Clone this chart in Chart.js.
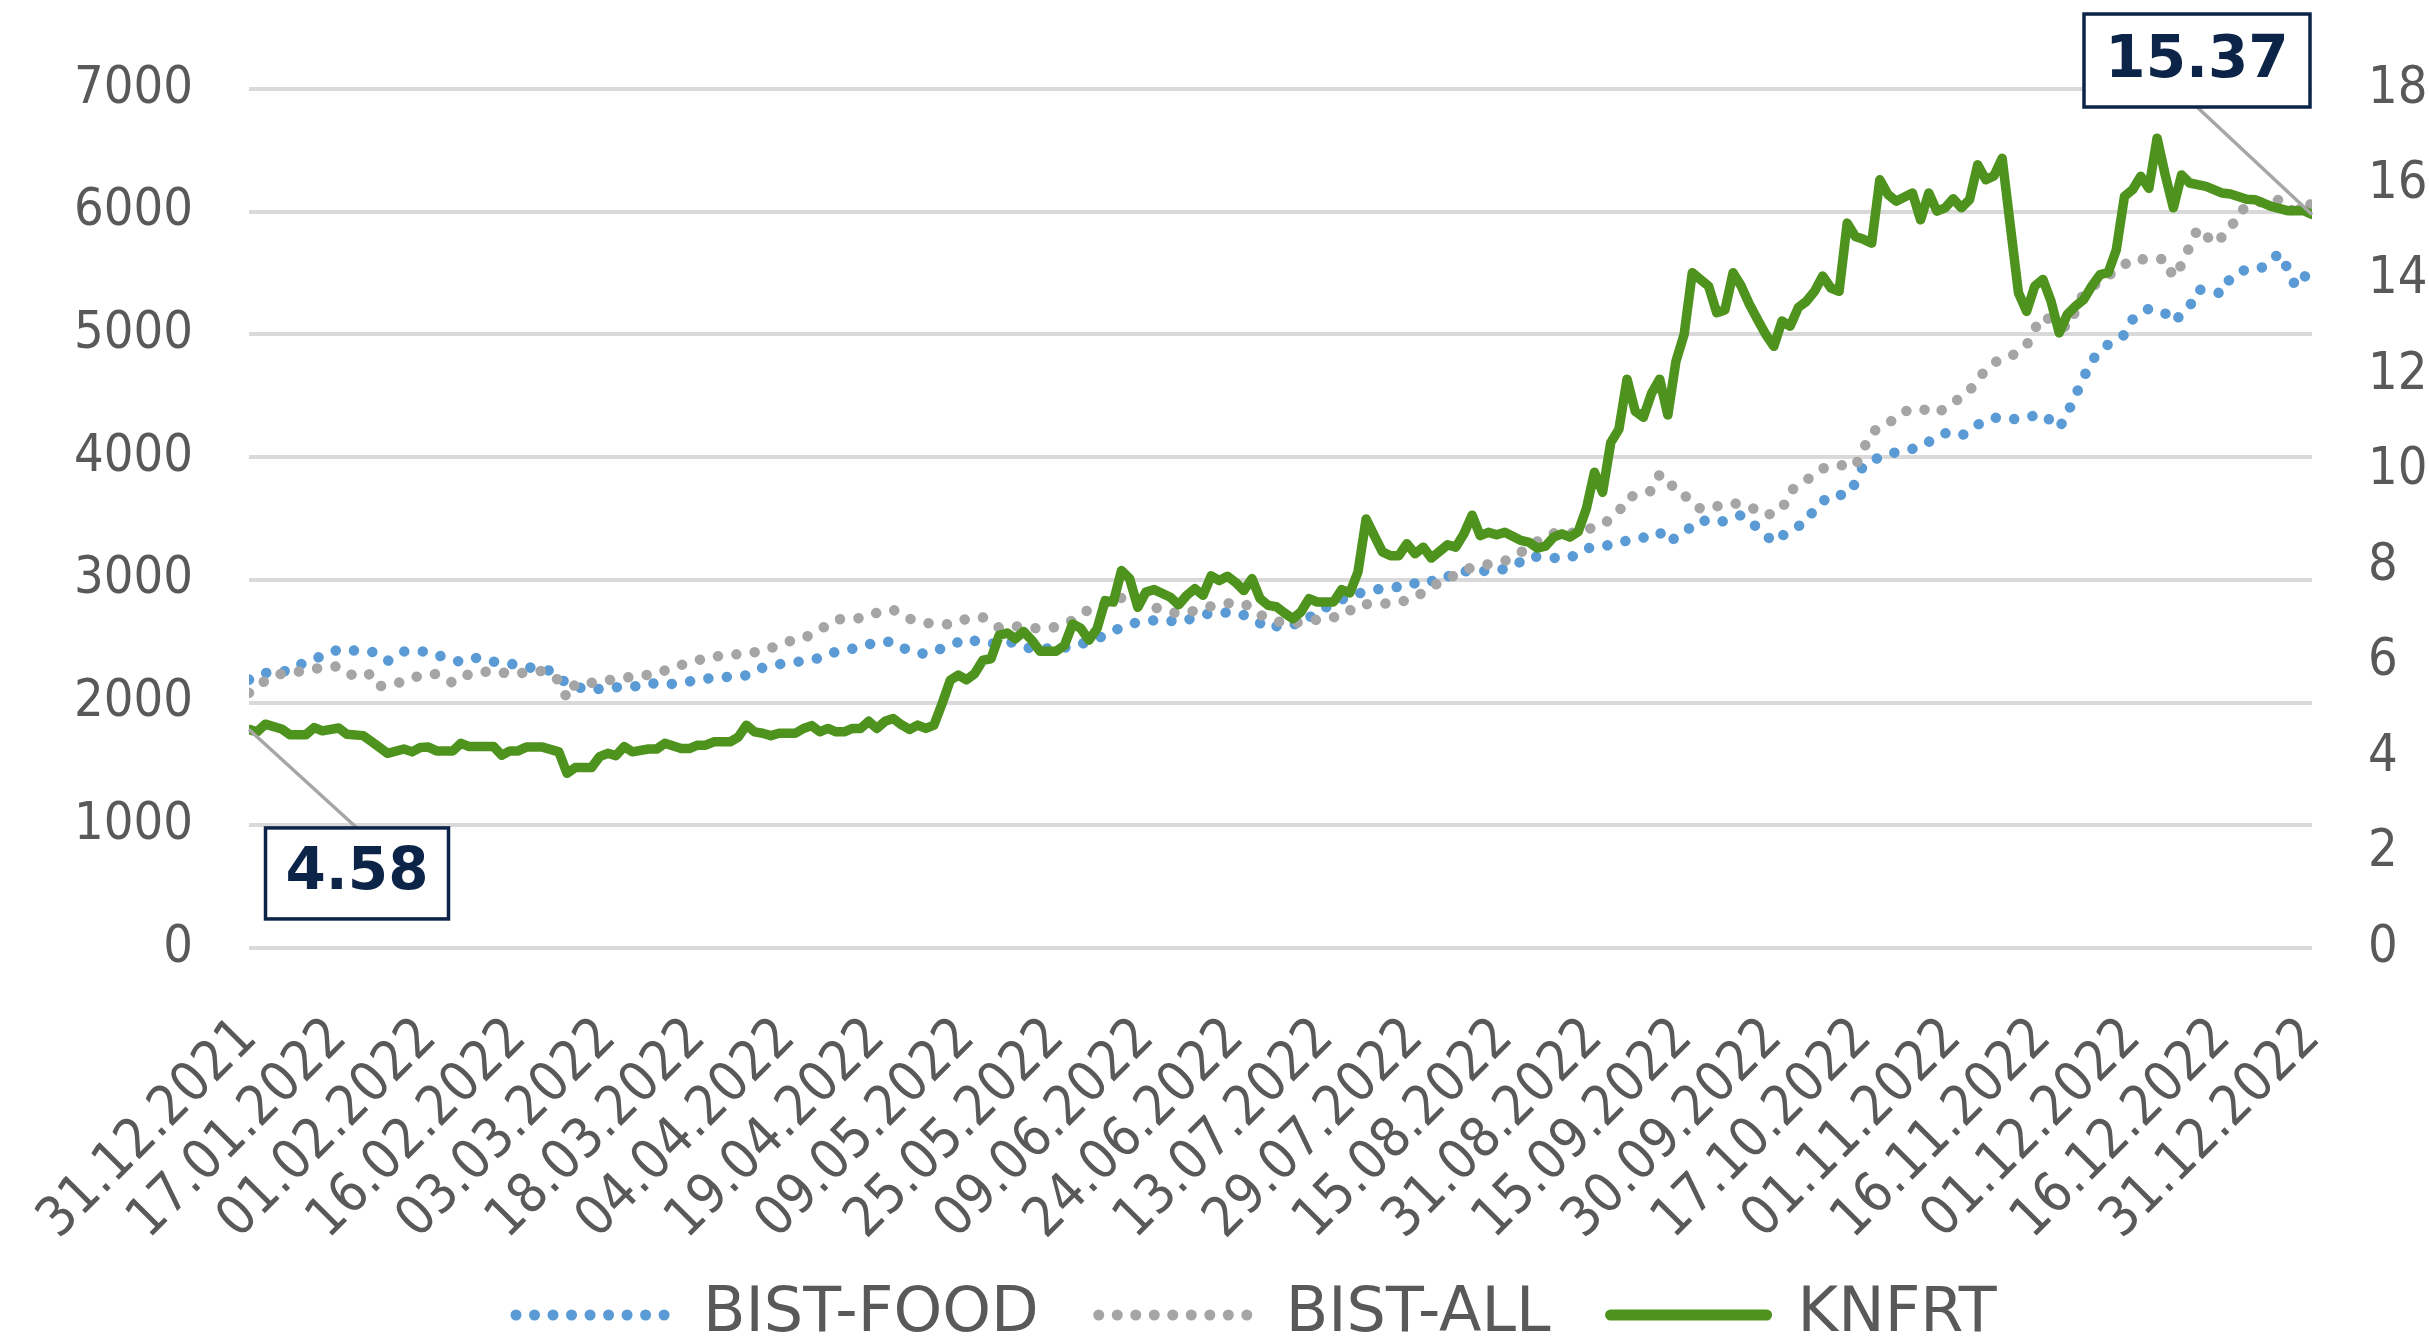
<!DOCTYPE html>
<html><head><meta charset="utf-8">
<script src="https://cdn.jsdelivr.net/npm/chart.js@4.4.1/dist/chart.umd.min.js"></script>
<style>html,body{margin:0;padding:0;background:#fff;}#wrap{width:2429px;height:1338px;}</style>
</head><body><div id="wrap"><canvas id="c" width="2429" height="1338"></canvas></div>
<script>
// ---- DATA ----
const tickLabels = ['31.12.2021','17.01.2022','01.02.2022','16.02.2022','03.03.2022','18.03.2022','04.04.2022','19.04.2022','09.05.2022','25.05.2022','09.06.2022','24.06.2022','13.07.2022','29.07.2022','15.08.2022','31.08.2022','15.09.2022','30.09.2022','17.10.2022','01.11.2022','16.11.2022','01.12.2022','16.12.2022','31.12.2022'];
const tickDays = [0,11,22,33,44,55,66,77,88,99,110,121,132,143,154,165,176,187,198,209,220,231,242,253];
const seriesNames = ['BIST-FOOD','BIST-ALL','KNFRT'];

// [trading day index, value]
const bistFood = [[0,2187],[2,2241],[5,2260],[7,2336],[9,2379],[11,2434],[13,2423],[15,2417],[17,2339],[19,2417],[22,2417],[24,2366],[26,2331],[28,2366],[31,2317],[33,2312],[35,2276],[37,2260],[39,2154],[40,2130],[42,2100],[44,2125],[47,2127],[49,2160],[51,2146],[53,2160],[56,2195],[58,2206],[61,2222],[63,2285],[65,2312],[68,2339],[70,2363],[72,2415],[75,2450],[77,2496],[79,2496],[81,2417],[83,2396],[86,2466],[88,2521],[90,2485],[92,2480],[94,2493],[96,2434],[99,2445],[101,2453],[105,2547],[107,2615],[109,2655],[112,2677],[114,2655],[116,2691],[118,2732],[121,2734],[123,2691],[125,2602],[127,2642],[129,2637],[131,2743],[133,2805],[135,2873],[138,2919],[140,2940],[142,2943],[144,3003],[146,2981],[148,3068],[151,3073],[153,3073],[155,3108],[157,3192],[160,3179],[162,3179],[164,3257],[166,3271],[168,3306],[171,3344],[173,3388],[174,3304],[176,3388],[178,3488],[180,3463],[182,3501],[183,3528],[185,3425],[187,3306],[189,3407],[191,3469],[192,3583],[194,3694],[196,3691],[197,3789],[198,3938],[200,4000],[202,4041],[205,4081],[207,4168],[208,4195],[210,4173],[212,4265],[214,4322],[216,4306],[218,4326],[220,4350],[222,4236],[223,4358],[224,4504],[225,4648],[226,4791],[228,4919],[230,4997],[231,5122],[233,5211],[235,5171],[236,5100],[238,5228],[239,5366],[240,5358],[242,5333],[243,5466],[245,5534],[247,5547],[249,5661],[250,5539],[251,5388],[252,5469],[253,5500]];

const bistAll = [[0,2079],[2,2179],[4,2236],[7,2260],[9,2287],[11,2295],[13,2209],[15,2233],[16,2133],[19,2171],[21,2222],[23,2233],[25,2160],[27,2233],[30,2260],[32,2233],[34,2244],[36,2258],[38,2182],[39,2033],[40,2152],[43,2166],[45,2195],[47,2209],[50,2236],[52,2287],[54,2325],[56,2363],[59,2393],[61,2393],[64,2444],[66,2496],[68,2523],[70,2593],[72,2677],[75,2688],[77,2732],[79,2756],[81,2683],[83,2648],[86,2637],[88,2683],[90,2694],[92,2610],[94,2621],[97,2602],[99,2615],[101,2669],[103,2759],[105,2800],[107,2854],[111,2778],[113,2732],[115,2729],[117,2772],[120,2810],[122,2810],[124,2715],[126,2661],[128,2648],[130,2661],[132,2692],[134,2699],[136,2800],[139,2805],[141,2816],[143,2854],[145,2946],[147,3005],[149,3084],[152,3127],[154,3154],[156,3225],[158,3314],[160,3379],[162,3379],[164,3410],[166,3447],[168,3556],[169,3669],[172,3726],[173,3859],[174,3826],[175,3713],[177,3656],[178,3577],[180,3599],[182,3626],[184,3599],[186,3523],[188,3572],[189,3724],[191,3813],[193,3908],[195,3935],[197,3924],[198,4068],[199,4203],[201,4274],[203,4374],[205,4396],[207,4358],[209,4442],[211,4539],[212,4640],[214,4772],[216,4818],[218,4911],[219,5046],[220,5149],[223,5054],[224,5190],[225,5339],[227,5434],[229,5523],[231,5615],[233,5610],[235,5615],[236,5466],[237,5569],[238,5718],[239,5864],[240,5807],[241,5737],[243,5856],[244,6003],[246,6065],[248,6108],[250,6076],[251,5949],[252,6098],[253,6050]];

const knfrt = [[0,4.58],[1,4.53],[2,4.69],[4,4.59],[5,4.47],[7,4.47],[8,4.62],[9,4.55],[11,4.61],[12,4.48],[14,4.45],[15,4.33],[17,4.08],[19,4.17],[20,4.11],[21,4.20],[22,4.21],[23,4.13],[25,4.13],[26,4.29],[27,4.22],[30,4.22],[31,4.04],[32,4.13],[33,4.13],[34,4.21],[36,4.21],[38,4.11],[39,3.66],[40,3.78],[42,3.78],[43,4.01],[44,4.08],[45,4.03],[46,4.22],[47,4.11],[49,4.17],[50,4.17],[51,4.29],[53,4.18],[54,4.18],[55,4.25],[56,4.25],[57,4.32],[59,4.32],[60,4.42],[61,4.67],[62,4.53],[63,4.50],[64,4.45],[65,4.50],[67,4.50],[68,4.60],[69,4.66],[70,4.53],[71,4.60],[72,4.53],[73,4.53],[74,4.60],[75,4.60],[76,4.75],[77,4.60],[78,4.75],[79,4.81],[80,4.68],[81,4.58],[82,4.67],[83,4.60],[84,4.67],[85,5.12],[86,5.61],[87,5.72],[88,5.62],[89,5.75],[90,6.03],[91,6.06],[92,6.55],[93,6.60],[94,6.48],[95,6.63],[96,6.45],[97,6.22],[99,6.22],[100,6.34],[101,6.79],[102,6.70],[103,6.45],[104,6.69],[105,7.28],[106,7.25],[107,7.91],[108,7.74],[109,7.14],[110,7.46],[111,7.51],[113,7.35],[114,7.19],[115,7.39],[116,7.53],[117,7.39],[118,7.80],[119,7.70],[120,7.79],[121,7.66],[122,7.49],[123,7.74],[124,7.32],[125,7.18],[126,7.15],[127,7.02],[128,6.90],[129,7.04],[130,7.32],[131,7.25],[133,7.25],[134,7.51],[135,7.44],[136,7.88],[137,8.99],[138,8.64],[139,8.30],[140,8.22],[141,8.22],[142,8.47],[143,8.26],[144,8.40],[145,8.17],[147,8.45],[148,8.40],[149,8.68],[150,9.07],[151,8.64],[152,8.71],[153,8.66],[154,8.71],[156,8.54],[157,8.50],[158,8.38],[159,8.42],[160,8.61],[161,8.68],[162,8.61],[163,8.72],[164,9.20],[165,9.97],[166,9.55],[167,10.59],[168,10.87],[169,11.92],[170,11.25],[171,11.12],[172,11.62],[173,11.92],[174,11.17],[175,12.30],[176,12.86],[177,14.15],[179,13.87],[180,13.31],[181,13.37],[182,14.15],[183,13.87],[184,13.49],[185,13.17],[186,12.86],[187,12.61],[188,13.14],[189,13.03],[190,13.42],[191,13.55],[192,13.76],[193,14.08],[194,13.83],[195,13.76],[196,15.19],[197,14.91],[198,14.85],[199,14.77],[200,16.10],[201,15.79],[202,15.65],[204,15.82],[205,15.26],[206,15.82],[207,15.44],[208,15.51],[209,15.70],[210,15.51],[211,15.68],[212,16.41],[213,16.10],[214,16.18],[215,16.55],[217,13.73],[218,13.34],[219,13.87],[220,14.01],[221,13.55],[222,12.89],[223,13.28],[224,13.45],[225,13.59],[226,13.87],[227,14.11],[228,14.15],[229,14.63],[230,15.75],[231,15.89],[232,16.17],[233,15.92],[234,16.97],[235,16.20],[236,15.51],[237,16.20],[238,16.03],[240,15.96],[242,15.82],[243,15.80],[245,15.69],[246,15.68],[248,15.54],[250,15.45],[252,15.45],[253,15.37]];

// ---- STYLE ----
const TICK_FONT = "'DejaVu Sans Condensed', 'Noto Sans', sans-serif";
const TICK_COLOR = '#595959';
const NAVY = '#0b2447';

const toPts = arr => arr.map(([d, v]) => ({x: d, y: v}));

const annotPlugin = {
  id: 'annot',
  afterDatasetsDraw(chart) {
    const ctx = chart.ctx;
    const xs = chart.scales.x, yr = chart.scales.yR;
    const first = knfrt[0], last = knfrt[knfrt.length - 1];
    const items = [
      {pt: first, dx: 108, dy: 144, w: 183, h: 91, edge: 'top'},
      {pt: last, dx: -115, dy: -154, w: 226, h: 93, edge: 'bottom'}
    ];
    items.forEach(it => {
      const px = xs.getPixelForValue(it.pt[0]);
      const py = yr.getPixelForValue(it.pt[1]);
      const cx = px + it.dx, cy = py + it.dy;
      ctx.save();
      ctx.strokeStyle = '#a6a6a6';
      ctx.lineWidth = 3.5;
      ctx.beginPath();
      ctx.moveTo(px, py);
      ctx.lineTo(cx, it.edge === 'top' ? cy - it.h / 2 : cy + it.h / 2);
      ctx.stroke();
      ctx.fillStyle = '#ffffff';
      ctx.fillRect(cx - it.w / 2, cy - it.h / 2, it.w, it.h);
      ctx.strokeStyle = NAVY;
      ctx.lineWidth = 3.5;
      ctx.strokeRect(cx - it.w / 2, cy - it.h / 2, it.w, it.h);
      ctx.fillStyle = NAVY;
      ctx.font = "bold 58px 'DejaVu Sans', sans-serif";
      ctx.textAlign = 'center';
      ctx.textBaseline = 'middle';
      ctx.fillText(it.pt[1].toFixed(2), cx, cy + 1);
      ctx.restore();
    });
  }
};

// place the legend row: first marker starts at x=516, text centred near y=1315
const legendPlace = {
  id: 'legendPlace',
  afterLayout(chart) {
    const lg = chart.legend;
    if (!lg || !lg.lineWidths) return;
    const P = lg.options.labels.padding;
    const fs = lg.options.labels.font.size;
    const x0 = (lg.left + P + lg.right - lg.lineWidths[0]) / 2;
    const dx = 516 - x0;
    const dy = (1315 - fs / 2 - P) - lg.top;
    lg.left += dx; lg.right += dx; lg.top += dy; lg.bottom += dy;
  }
};

const lineStyles = [
  {color: '#5b9bd5', width: 10.5, dash: [0.01, 18.5]},
  {color: '#a5a5a5', width: 10.5, dash: [0.01, 18.5]},
  {color: '#4f931f', width: 9.5, dash: []}
];
const seriesData = [bistFood, bistAll, knfrt];
const axisFor = ['y', 'y', 'yR'];
const drawOrder = [2, 1, 0];

new Chart(document.getElementById('c'), {
  type: 'line',
  data: {
    datasets: seriesNames.map((name, i) => ({
      label: name,
      data: toPts(seriesData[i]),
      yAxisID: axisFor[i],
      borderColor: lineStyles[i].color,
      backgroundColor: lineStyles[i].color,
      borderWidth: lineStyles[i].width,
      borderDash: lineStyles[i].dash,
      borderCapStyle: 'round',
      borderJoinStyle: 'round',
      pointRadius: 0,
      pointHoverRadius: 0,
      tension: 0,
      order: drawOrder[i]
    }))
  },
  options: {
    responsive: false,
    animation: false,
    devicePixelRatio: 1,
    layout: {padding: {left: 0, right: 0, top: 89, bottom: -42}},
    plugins: {
      tooltip: {enabled: false},
      legend: {
        position: 'bottom',
        labels: {
          usePointStyle: true,
          pointStyleWidth: 156,
          padding: 60,
          color: TICK_COLOR,
          font: {family: "'DejaVu Sans', sans-serif", size: 62},
          generateLabels: chart => chart.data.datasets.map((ds, i) => ({
            text: ds.label,
            fillStyle: ds.borderColor,
            strokeStyle: ds.borderColor,
            lineWidth: 11,
            lineDash: ds.borderDash,
            lineCap: 'round',
            pointStyle: 'line',
            fontColor: TICK_COLOR,
            hidden: false,
            datasetIndex: i
          }))
        }
      }
    },
    scales: {
      x: {
        type: 'linear', min: 0, max: 253, offset: false,
        afterBuildTicks: s => { s.ticks = tickDays.map(v => ({value: v})); },
        afterFit: s => { s.height = 300; s.paddingLeft = 0; s.paddingRight = 0; },
        ticks: {
          autoSkip: false, maxRotation: 45, minRotation: 45, padding: 58,
          color: TICK_COLOR, font: {family: TICK_FONT, size: 55},
          callback: (v, i) => tickLabels[i]
        },
        grid: {display: false, drawTicks: false},
        border: {display: false}
      },
      y: {
        position: 'left', min: 0, max: 7000,
        afterFit: s => { s.width = 249; },
        ticks: {stepSize: 1000, padding: 56, color: TICK_COLOR, font: {family: TICK_FONT, size: 52},
                callback: v => String(v)},
        grid: {color: '#d9d9d9', lineWidth: 4, drawTicks: false},
        border: {display: false}
      },
      yR: {
        position: 'right', min: 0, max: 18,
        afterFit: s => { s.width = 117; },
        ticks: {stepSize: 2, padding: 56, color: TICK_COLOR, font: {family: TICK_FONT, size: 52},
                callback: v => String(v)},
        grid: {display: false, drawTicks: false},
        border: {display: false}
      }
    }
  },
  plugins: [annotPlugin, legendPlace]
});
</script>
</body></html>
